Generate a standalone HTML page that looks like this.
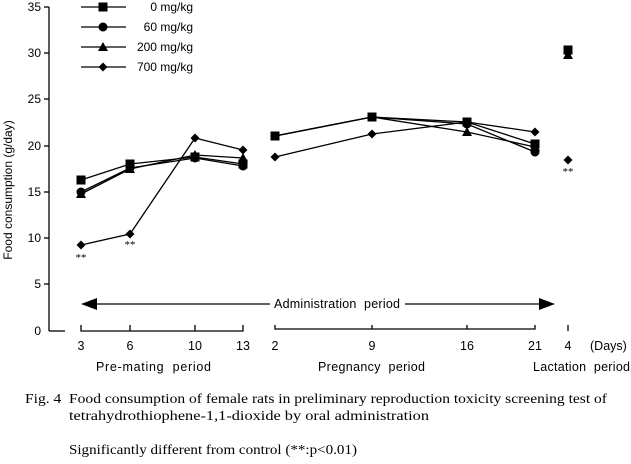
<!DOCTYPE html><html><head><style>body{margin:0;background:#fff}</style></head><body>
<svg width="631" height="459" xmlns="http://www.w3.org/2000/svg" font-family="Liberation Sans, sans-serif" font-size="12">
<defs>
<g id="sq"><rect x="-4.5" y="-4.5" width="9" height="9"/></g>
<g id="ci"><circle r="4.5"/></g>
<g id="tr"><polygon points="0,-5 5,4 -5,4"/></g>
<g id="di"><polygon points="0,-4.5 4.5,0 0,4.5 -4.5,0"/></g>
</defs>
<g stroke="#000" stroke-width="1.3" fill="none">
<line x1="49" y1="7" x2="49" y2="331"/>
<line x1="49" y1="331" x2="65" y2="331"/>
<line x1="44" y1="7" x2="49" y2="7"/><line x1="44" y1="53" x2="49" y2="53"/><line x1="44" y1="99" x2="49" y2="99"/><line x1="44" y1="146" x2="49" y2="146"/><line x1="44" y1="192" x2="49" y2="192"/><line x1="44" y1="238" x2="49" y2="238"/><line x1="44" y1="284" x2="49" y2="284"/>
<polyline points="81,325 81,331 243,331 243,325"/>
<line x1="130" y1="325" x2="130" y2="331"/><line x1="195" y1="325" x2="195" y2="331"/>
<polyline points="275,325 275,329 535,329 535,325"/>
<line x1="372" y1="325" x2="372" y2="329"/><line x1="467" y1="325" x2="467" y2="329"/>
<line x1="568" y1="325" x2="568" y2="331"/>
<line x1="95" y1="304" x2="270" y2="304"/><line x1="405" y1="304" x2="540" y2="304"/>
</g>
<polygon points="81,304 97,298 97,310"/><polygon points="555,304 539,298 539,310"/>
<text x="274" y="308" font-size="12.5" textLength="126" lengthAdjust="spacing">Administration&#160;&#160;period</text>
<g font-size="12" text-anchor="end">
<text x="41" y="11">35</text><text x="41" y="57">30</text><text x="41" y="103">25</text><text x="41" y="150">20</text><text x="41" y="196">15</text><text x="41" y="242">10</text><text x="41" y="288">5</text><text x="41" y="335">0</text></g>
<text transform="translate(12,190) rotate(-90)" text-anchor="middle" font-size="12">Food consumption (g/day)</text>
<g text-anchor="middle" font-size="12.5">
<text x="81" y="350">3</text><text x="130" y="350">6</text><text x="195" y="350">10</text><text x="243" y="350">13</text><text x="275" y="350">2</text><text x="372" y="350">9</text><text x="467" y="350">16</text><text x="535" y="350">21</text><text x="568" y="350">4</text></g>
<text x="590" y="350" font-size="12.5">(Days)</text>
<text x="96" y="371" font-size="12.5" textLength="115" lengthAdjust="spacing">Pre-mating&#160;&#160;period</text>
<text x="318" y="371" font-size="12.5" textLength="107" lengthAdjust="spacing">Pregnancy&#160;&#160;period</text>
<text x="533" y="371" font-size="12.5" textLength="97" lengthAdjust="spacing">Lactation&#160;&#160;period</text>
<g stroke="#000" stroke-width="1.3" fill="none">
<line x1="81" y1="7" x2="126" y2="7"/><line x1="81" y1="27" x2="126" y2="27"/><line x1="81" y1="47" x2="126" y2="47"/><line x1="81" y1="67" x2="126" y2="67"/>
<polyline points="81,180 130,164 195,157 243,164"/><polyline points="275,136 372,117 467,122 535,144"/>
<polyline points="81,192 130,168 195,158 243,166"/><polyline points="275,136 372,117 467,124 535,152"/>
<polyline points="81,194 130,169 195,155 243,158"/><polyline points="275,136 372,117 467,132 535,147"/>
<polyline points="81,245 130,234 195,138 243,150"/><polyline points="275,157 372,134 467,122 535,132"/>
</g>
<g fill="#000">
<use href="#sq" x="103" y="7"/><use href="#ci" x="103" y="27"/><use href="#tr" x="103" y="47"/><use href="#di" x="103" y="67"/>
<use href="#sq" x="81" y="180"/><use href="#sq" x="130" y="164"/><use href="#sq" x="195" y="157"/><use href="#sq" x="243" y="164"/><use href="#sq" x="275" y="136"/><use href="#sq" x="372" y="117"/><use href="#sq" x="467" y="122"/><use href="#sq" x="535" y="144"/><use href="#sq" x="568" y="50"/>
<use href="#ci" x="81" y="192"/><use href="#ci" x="130" y="168"/><use href="#ci" x="195" y="158"/><use href="#ci" x="243" y="166"/><use href="#ci" x="467" y="124"/><use href="#ci" x="535" y="152"/>
<use href="#tr" x="81" y="194"/><use href="#tr" x="130" y="169"/><use href="#tr" x="195" y="155"/><use href="#tr" x="243" y="158"/><use href="#tr" x="467" y="132"/><use href="#tr" x="535" y="147"/><use href="#tr" x="568" y="55"/>
<use href="#di" x="81" y="245"/><use href="#di" x="130" y="234"/><use href="#di" x="195" y="138"/><use href="#di" x="243" y="150"/><use href="#di" x="275" y="157"/><use href="#di" x="372" y="134"/><use href="#di" x="467" y="122"/><use href="#di" x="535" y="132"/><use href="#di" x="568" y="160"/>
</g>
<g font-size="12" text-anchor="end"><text x="193" y="11">0 mg/kg</text><text x="193" y="31">60 mg/kg</text><text x="193" y="51">200 mg/kg</text><text x="193" y="71">700 mg/kg</text></g>
<g font-size="11" text-anchor="middle" font-family="Liberation Serif, serif"><text x="81" y="261">**</text><text x="130" y="248">**</text><text x="568" y="175">**</text></g>
<g font-family="Liberation Serif, serif" font-size="14">
<text x="25" y="403" textLength="582" lengthAdjust="spacingAndGlyphs">Fig. 4&#160;&#160;Food consumption of female rats in preliminary reproduction toxicity screening test of</text>
<text x="69" y="420" textLength="360" lengthAdjust="spacingAndGlyphs">tetrahydrothiophene-1,1-dioxide by oral administration</text>
<text x="69" y="454" textLength="288" lengthAdjust="spacingAndGlyphs">Significantly different from control (**:p&lt;0.01)</text>
</g>
</svg></body></html>
